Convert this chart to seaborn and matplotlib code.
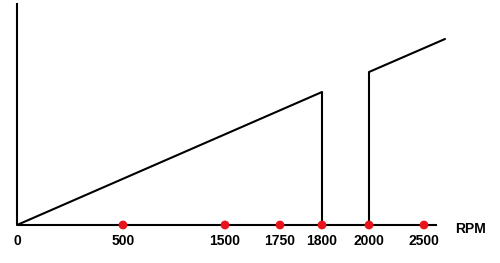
import matplotlib
matplotlib.use("Agg")
import matplotlib.pyplot as plt
import seaborn as sns
import pandas as pd

# Data (schematic chart: x positions follow the drawn, non-linear RPM axis)
rpm_labels = ["0", "500", "1500", "1750", "1800", "2000", "2500"]
rpm_pos = [0, 106, 208, 263, 305, 352, 407]          # position along axis
marked = [False, True, True, True, True, True, True]  # red dots

seg1_x = [0, 305, 305]
seg1_y = [0, 133, 0]
seg2_x = [352, 352, 428]
seg2_y = [0, 153, 186]

sns.set_style("white")
plt.rcParams["font.family"] = ["Liberation Sans", "DejaVu Sans"]

fig = plt.figure(figsize=(5.0, 2.63), dpi=100)
ax = fig.add_axes([0, 0, 1, 1])
ax.set_xlim(-17, 483)
ax.set_ylim(-38, 225)
ax.axis("off")

# axes lines
ax.plot([0, 420], [0, 0], color="black", lw=1.5, solid_capstyle="butt", zorder=1)
ax.plot([0, 0], [0, 222], color="black", lw=1.5, solid_capstyle="butt", zorder=1)

df = pd.DataFrame({
    "x": seg1_x + seg2_x,
    "y": seg1_y + seg2_y,
    "seg": ["a"] * len(seg1_x) + ["b"] * len(seg2_x),
})
sns.lineplot(data=df, x="x", y="y", units="seg", estimator=None, sort=False,
             color="black", lw=1.5, ax=ax, zorder=2)

dots = pd.DataFrame({"x": [p for p, m in zip(rpm_pos, marked) if m],
                     "y": [0] * sum(marked)})
sns.scatterplot(data=dots, x="x", y="y", color="#e8141c", s=40,
                edgecolor="none", ax=ax, zorder=3)

for p, lab in zip(rpm_pos, rpm_labels):
    ax.text(p, -16, lab, ha="center", va="center", fontsize=10,
            fontweight="bold", color="black")
ax.text(454, -4, "RPM", ha="center", va="center", fontsize=10,
        fontweight="bold", color="black")

ax.set_xlabel("")
ax.set_ylabel("")
fig.savefig("out.png", dpi=100)
